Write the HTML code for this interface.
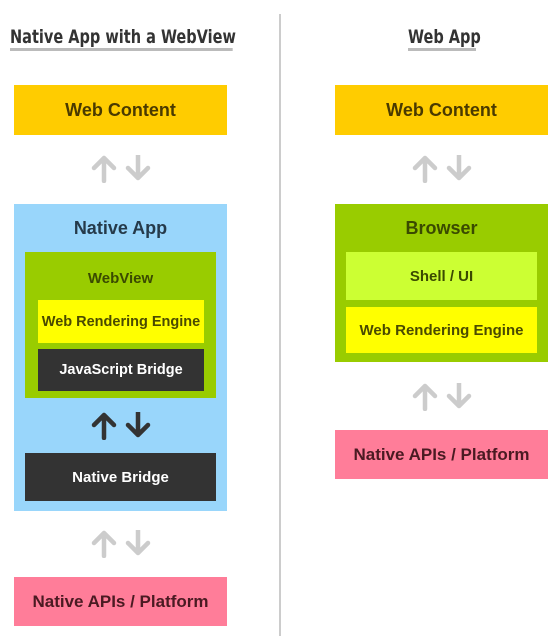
<!DOCTYPE html><html><head><style>
body{margin:0;width:551px;height:638px;background:#fff;position:relative;font-family:"Liberation Sans",sans-serif;font-weight:bold;overflow:hidden}
.b{position:absolute;display:flex;align-items:center;justify-content:center;box-sizing:border-box}
.h{position:absolute;font-family:"DejaVu Sans Condensed",sans-serif;font-size:19px;color:#333;border-bottom:3px solid #bbb;line-height:22px;white-space:nowrap;transform:scaleX(0.85);transform-origin:left}
svg.ar{position:absolute}
</style></head><body>
<div style="position:absolute;left:279px;top:14px;width:2px;height:622px;background:#ccc"></div>
<div class="h" style="left:10px;top:26px;width:262px">Native App with a WebView</div>
<div class="h" style="left:408px;top:26px;width:80px">Web App</div>

<svg width="0" height="0" style="position:absolute"><defs>
<g id="ud" fill="none" stroke-width="4.5" stroke-linecap="round" stroke-linejoin="round">
<path d="M13 26V3M3 13L13 3L23 13"/><path d="M47 0V23M37 13L47 23L57 13"/></g></defs></svg>

<div class="b" style="left:14px;top:85px;width:213px;height:50px;background:#ffcc00;color:#4a3a00;font-size:18px">Web Content</div>
<svg class="ar" style="left:91px;top:155px" width="60" height="28" stroke="#ccc"><use href="#ud"/></svg>
<div class="b" style="left:14px;top:204px;width:213px;height:307px;background:#99d6fb"></div>
<div class="b" style="left:14px;top:214px;width:213px;height:28px;color:#253a4a;font-size:18px">Native App</div>
<div class="b" style="left:25px;top:252px;width:191px;height:146px;background:#99cc00"></div>
<div class="b" style="left:25px;top:265px;width:191px;height:26px;color:#3a4a00;font-size:15px">WebView</div>
<div class="b" style="left:38px;top:300px;width:166px;height:43px;background:#ffff00;color:#4a4a00;font-size:14.5px">Web Rendering Engine</div>
<div class="b" style="left:38px;top:349px;width:166px;height:42px;background:#333;color:#fff;font-size:14.5px">JavaScript Bridge</div>
<svg class="ar" style="left:91px;top:412px" width="60" height="28" stroke="#333"><use href="#ud"/></svg>
<div class="b" style="left:25px;top:453px;width:191px;height:48px;background:#333;color:#fff;font-size:15px">Native Bridge</div>
<svg class="ar" style="left:91px;top:530px" width="60" height="28" stroke="#ccc"><use href="#ud"/></svg>
<div class="b" style="left:14px;top:577px;width:213px;height:49px;background:#ff7d99;color:#4a1a22;font-size:17px">Native APIs / Platform</div>

<div class="b" style="left:335px;top:85px;width:213px;height:50px;background:#ffcc00;color:#4a3a00;font-size:18px">Web Content</div>
<svg class="ar" style="left:412px;top:155px" width="60" height="28" stroke="#ccc"><use href="#ud"/></svg>
<div class="b" style="left:335px;top:204px;width:213px;height:158px;background:#99cc00"></div>
<div class="b" style="left:335px;top:214px;width:213px;height:28px;color:#3a4a00;font-size:18px">Browser</div>
<div class="b" style="left:346px;top:252px;width:191px;height:48px;background:#ccff33;color:#3a4a00;font-size:15px">Shell / UI</div>
<div class="b" style="left:346px;top:307px;width:191px;height:46px;background:#ffff00;color:#4a4a00;font-size:15px">Web Rendering Engine</div>
<svg class="ar" style="left:412px;top:383px" width="60" height="28" stroke="#ccc"><use href="#ud"/></svg>
<div class="b" style="left:335px;top:430px;width:213px;height:49px;background:#ff7d99;color:#4a1a22;font-size:17px">Native APIs / Platform</div>
</body></html>
